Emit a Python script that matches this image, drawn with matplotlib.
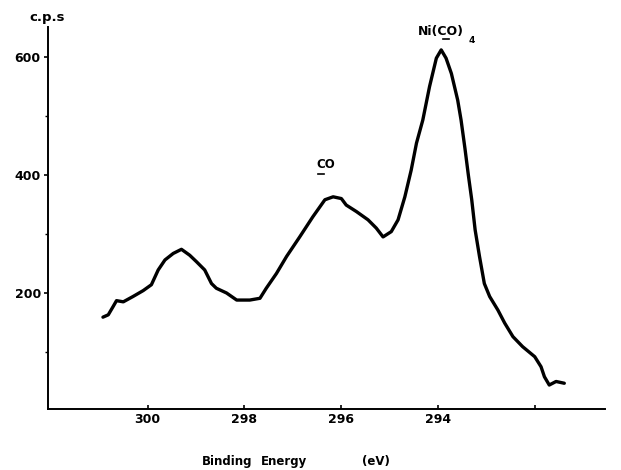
import numpy as np
import matplotlib
matplotlib.use('Agg')
import matplotlib.pyplot as plt
from matplotlib.transforms import offset_copy

# values
binding_energy = [300.92, 300.81, 300.71, 300.64, 300.50, 300.30, 300.09, 299.92,
                  299.78, 299.64, 299.47, 299.30, 299.13, 298.99, 298.82, 298.68,
                  298.58, 298.37, 298.16, 297.89, 297.68, 297.55, 297.34, 297.13,
                  296.86, 296.59, 296.34, 296.17, 296.00, 295.90, 295.69, 295.45,
                  295.28, 295.14, 294.97, 294.83, 294.69, 294.56, 294.45, 294.32,
                  294.18, 294.04, 293.94, 293.84, 293.73, 293.60, 293.53, 293.45,
                  293.38, 293.31, 293.24, 293.15, 293.05, 292.94, 292.77, 292.63,
                  292.46, 292.26, 292.01, 291.88, 291.81, 291.71, 291.57, 291.40]
counts = [159, 163, 177, 187, 185, 194, 204, 214,
          239, 256, 267, 274, 264, 253, 239, 216,
          208, 200, 188, 188, 191, 208, 233, 262,
          295, 329, 358, 363, 360, 349, 338, 324,
          310, 295, 304, 324, 363, 408, 454, 493,
          550, 598, 612, 598, 572, 527, 493, 445,
          400, 358, 307, 262, 216, 194, 171, 149,
          126, 109, 92, 75, 58, 44, 50, 47]

x_ticks = [300, 298, 296, 294, 292]
x_tick_labels = ['300', '298', '296', '294', '']
y_ticks = [200, 400, 600]
y_tick_labels = ['200', '400', '600']

peak_labels = ['CO', 'Ni(CO)']
peak_pos = [(296.17, 363), (293.94, 612)]

W, H = 621, 470
fig = plt.figure(figsize=(W / 100, H / 100), dpi=100)
ax = fig.add_axes([47.7 / W, 1 - 408.5 / H, (605 - 47.7) / W, (408.5 - 27) / H])

ax.plot(binding_energy, counts, color='black', linewidth=2.4,
        solid_joinstyle='round', solid_capstyle='round')

ax.set_xlim(302.06, 290.56)
ax.set_ylim(4.2, 650.8)

for s in ['top', 'right']:
    ax.spines[s].set_visible(False)
for s in ['left', 'bottom']:
    ax.spines[s].set_linewidth(1.4)

ax.set_xticks(x_ticks)
ax.set_xticklabels(x_tick_labels, fontsize=9, fontweight='bold')
ax.set_yticks(y_ticks)
ax.set_yticklabels(y_tick_labels, fontsize=9, fontweight='bold')
ax.set_yticks([100, 300, 500], minor=True)
ax.tick_params(axis='x', direction='in', length=3, width=1.2, pad=3)
ax.tick_params(axis='y', direction='out', length=3, width=1.2, pad=2)
ax.tick_params(axis='y', which='minor', direction='out', length=2, width=1)

# peak annotations
ax.annotate(peak_labels[0], xy=peak_pos[0], xytext=(-5, 23), textcoords='offset points',
            ha='center', va='center', fontsize=8.5, fontweight='bold')
ax.annotate(peak_labels[1], xy=peak_pos[1], xytext=(0, 13.5), textcoords='offset points',
            ha='center', va='center', fontsize=9, fontweight='bold')
ax.annotate('4', xy=peak_pos[1], xytext=(22, 6.5), textcoords='offset points',
            ha='center', va='center', fontsize=6.5, fontweight='bold')

# underline below the C of each label
for (px, py), dx, dy in [(peak_pos[0], -8.5, 16.5), (peak_pos[1], 3.5, 7.5)]:
    tr = offset_copy(ax.transData, fig=fig, x=dx, y=dy, units='points')
    ax.plot([px + 0.06, px - 0.06], [py, py], color='black', linewidth=1.2,
            transform=tr, clip_on=False)

fig.text(47.5 / W, 1 - 18 / H, 'c.p.s', ha='center', va='center',
         fontsize=9.5, fontweight='bold')
fig.text(202 / W, 1 - 462 / H, 'Binding', ha='left', va='center',
         fontsize=8.5, fontweight='bold')
fig.text(261 / W, 1 - 462 / H, 'Energy', ha='left', va='center',
         fontsize=8.5, fontweight='bold')
fig.text(362 / W, 1 - 462 / H, '(eV)', ha='left', va='center',
         fontsize=8.5, fontweight='bold')

fig.savefig('out.png', dpi=100)
